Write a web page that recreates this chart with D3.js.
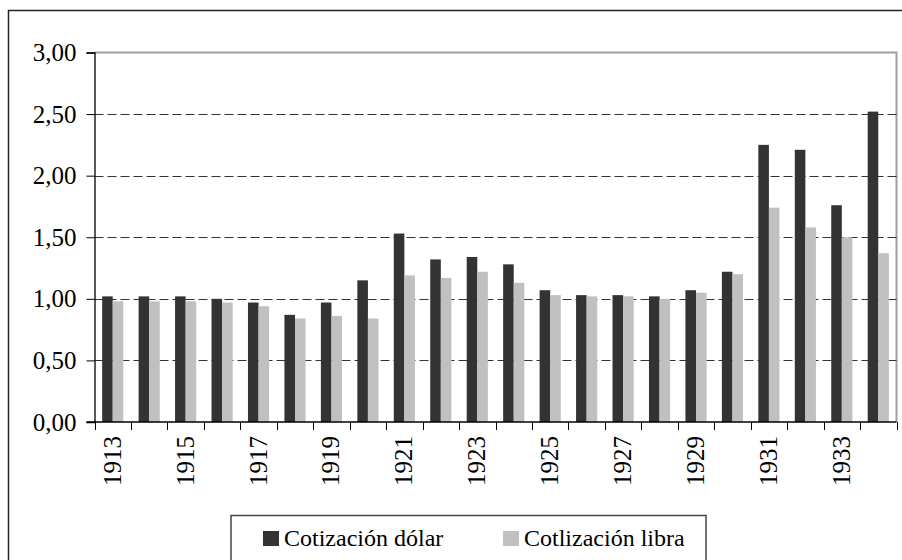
<!DOCTYPE html>
<html><head><meta charset="utf-8">
<script src="https://cdn.jsdelivr.net/npm/d3@7"></script>
<style>html,body{margin:0;padding:0;background:#fff}svg{display:block}</style>
</head><body>
<svg id="chart" width="902" height="560"></svg>
<script>
const years = [1913,1914,1915,1916,1917,1918,1919,1920,1921,1922,1923,1924,1925,1926,1927,1928,1929,1930,1931,1932,1933,1934];
const dolar = [1.02,1.02,1.02,1.00,0.97,0.87,0.97,1.15,1.53,1.32,1.34,1.28,1.07,1.03,1.03,1.02,1.07,1.22,2.25,2.21,1.76,2.52];
const libra = [0.98,0.98,0.98,0.97,0.94,0.84,0.86,0.84,1.19,1.17,1.22,1.13,1.03,1.02,1.02,1.00,1.05,1.20,1.74,1.58,1.50,1.37];
const yTicks = [0,0.5,1,1.5,2,2.5,3];
const seriesNames = ["Cotización dólar","Cotlización libra"];
const colors = ["#333333","#c0c0c0"];

const svg = d3.select("#chart");
const font = "'Liberation Serif','Times New Roman',serif";
const L = 94.5, R = 896.5, T = 52.5, B = 422;

// outer frame (extends beyond canvas to right/bottom)
svg.append("rect").attr("x",8.5).attr("y",10.5).attr("width",1000).attr("height",1000)
  .attr("fill","none").attr("stroke","#222").attr("stroke-width",1.5);

const x = d3.scaleBand().domain(years).range([L,R]).padding(0);
const y = d3.scaleLinear().domain([0,3]).range([B,T]);
const bw = x.bandwidth();
const barW = bw*0.29;

// plot area border (gray, top & right)
svg.append("path").attr("d",`M${L},${T}H${R}V${B}`).attr("fill","none")
  .attr("stroke","#a0a0a0").attr("stroke-width",2);

// gridlines
svg.append("g").selectAll("line").data(yTicks.filter(v=>v>0 && v<3)).join("line")
  .attr("x1",L).attr("x2",R).attr("y1",d=>Math.round(y(d))+0.5).attr("y2",d=>Math.round(y(d))+0.5)
  .attr("stroke","#333").attr("stroke-width",1).attr("stroke-dasharray","9,4");

// bars
const data = years.map((yr,i)=>({yr, vals:[dolar[i],libra[i]]}));
const g = svg.append("g");
data.forEach(d=>{
  const cx = x(d.yr)+bw/2;
  d.vals.forEach((v,k)=>{
    g.append("rect").attr("x", k===0 ? cx-barW : cx).attr("width",barW)
      .attr("y",y(v)).attr("height",B-y(v)).attr("fill",colors[k]);
  });
});

// y axis
const yAxis = d3.axisLeft(y).tickValues(yTicks).tickSize(8).tickPadding(10)
  .tickFormat(d=>d3.format(".2f")(d).replace(".",","));
const ya = svg.append("g").attr("transform",`translate(${L},0)`).call(yAxis);
ya.select(".domain").attr("stroke","#000").attr("stroke-width",1.3);
ya.selectAll(".tick line").attr("stroke","#000");
ya.selectAll("text").attr("font-family",font).attr("font-size",25).attr("fill","#000");

// x axis
svg.append("line").attr("x1",L-8).attr("x2",R).attr("y1",B).attr("y2",B).attr("stroke","#000").attr("stroke-width",1.3);
const bounds = years.map(yr=>x(yr)).concat([R]);
svg.append("g").selectAll("line").data(bounds).join("line")
  .attr("x1",d=>Math.round(d)+0.5).attr("x2",d=>Math.round(d)+0.5).attr("y1",B).attr("y2",B+8)
  .attr("stroke","#000").attr("stroke-width",1);
svg.append("g").selectAll("text").data(years.filter((yr,i)=>i%2===0)).join("text")
  .attr("transform",d=>`translate(${x(d)+bw/2+8},${B+14}) rotate(-90)`)
  .attr("text-anchor","end").attr("font-family",font).attr("font-size",25).attr("fill","#000")
  .text(d=>d);

// legend
svg.append("rect").attr("x",231).attr("y",515.5).attr("width",475).attr("height",100)
  .attr("fill","#fff").attr("stroke","#444").attr("stroke-width",1.5);
const legX = [263, 503];
seriesNames.forEach((n,k)=>{
  svg.append("rect").attr("x",legX[k]).attr("y",531).attr("width",16).attr("height",15).attr("fill",colors[k]);
  svg.append("text").attr("x",legX[k]+21).attr("y",546).attr("font-family",font).attr("font-size",24)
    .attr("fill","#000").text(n);
});
</script>
</body></html>
